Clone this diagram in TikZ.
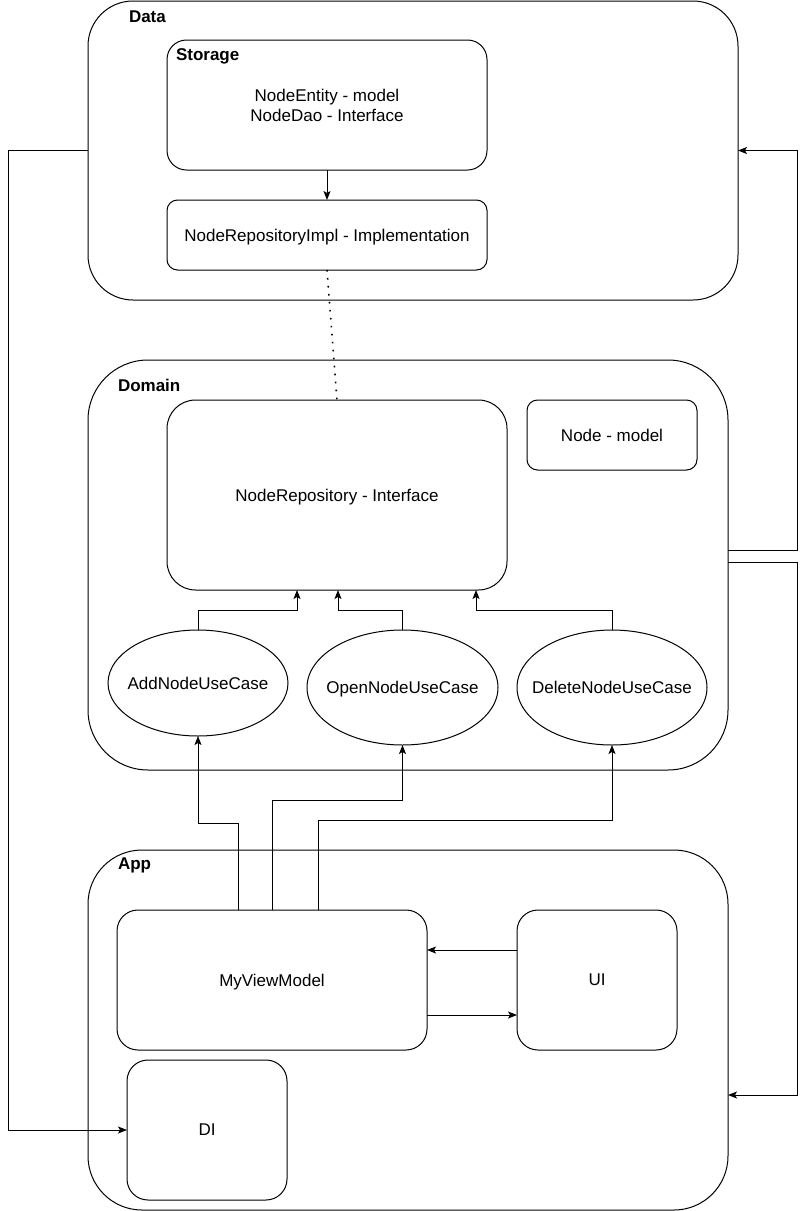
\documentclass[tikz,border=0pt]{standalone}
\usepackage{fontspec}
\setmainfont{Liberation Sans}
\usetikzlibrary{arrows.meta,shapes.geometric}
\begin{document}
\begin{tikzpicture}[x=1pt,y=-1pt,
  every node/.style={inner sep=0pt,outer sep=0pt,font=\fontsize{17}{20}\selectfont},
  box/.style={draw,line width=1pt,rectangle,align=center,text depth=0pt},
  usecase/.style={draw,line width=1pt,ellipse,text depth=0pt},
  title/.style={anchor=west,font=\fontsize{17}{20}\selectfont\bfseries},
  arr/.style={draw,line width=1pt,-{Stealth[length=9pt,width=7pt,inset=2pt]}},
  dots/.style={draw,line width=1.6pt,dash pattern=on 1.6pt off 6.4pt}
]
\useasboundingbox (0,0) rectangle (806,1211);

% layer containers
\node[box,rounded corners=45pt,minimum width=650pt,minimum height=299pt] (data) at (413,150.5) {};
\node[box,rounded corners=60pt,minimum width=640pt,minimum height=410pt] (domain) at (408,565) {};
\node[box,rounded corners=54pt,minimum width=640pt,minimum height=360pt] (app) at (408,1030) {};
\node[title] (datalbl) at (129,17) {Data};
\node[title] (domainlbl) at (118,385) {Domain};
\node[title] (applbl) at (118,865) {App};

% data layer
\node[box,rounded corners=19.5pt,minimum width=320pt,minimum height=130pt] (storage) at (327,105)
  {NodeEntity - model\\NodeDao - Interface};
\node[title] (storagelbl) at (176,56) {Storage};
\node[box,rounded corners=10.5pt,minimum width=320pt,minimum height=70pt] (impl) at (327,235)
  {NodeRepositoryImpl - Implementation};

% domain layer
\node[box,rounded corners=28.5pt,minimum width=340pt,minimum height=190pt] (repo) at (337,495)
  {NodeRepository - Interface};
\node[box,rounded corners=10.5pt,minimum width=170pt,minimum height=70pt] (model) at (612,435)
  {Node - model};
\node[usecase,minimum width=180pt,minimum height=106pt] (add) at (198,683)
  {\makebox[0pt]{AddNodeUseCase}};
\node[usecase,minimum width=191pt,minimum height=115pt] (open) at (402.5,687.5)
  {\makebox[0pt]{OpenNodeUseCase}};
\node[usecase,minimum width=190pt,minimum height=115pt] (del) at (612,687.5)
  {\makebox[0pt]{DeleteNodeUseCase}};

% app layer
\node[box,rounded corners=21pt,minimum width=310pt,minimum height=140pt] (vm) at (272,980) {MyViewModel};
\node[box,rounded corners=21pt,minimum width=160pt,minimum height=140pt] (ui) at (597,980) {UI};
\node[box,rounded corners=21pt,minimum width=160pt,minimum height=140pt] (di) at (207,1130) {DI};

% connectors inside the data layer
\draw[arr] (storage.south) -- (impl.north);
\draw[dots] (impl.south) -- (repo.north);

% use cases depend on the repository interface
\draw[arr] (add.north) -- ++(0,-20) -| ([xshift=-40pt]repo.south);
\draw[arr] (open.north) -- ++(0,-20) -| ([xshift=1pt]repo.south);
\draw[arr] (del.north) -- ++(0,-20) -| ([xshift=139pt]repo.south);

% view model calls the use cases
\draw[arr] ([xshift=-34pt]vm.north) -- ++(0,-87) -| (add.south);
\draw[arr] (vm.north) -- ++(0,-110) -| (open.south);
\draw[arr] ([xshift=46pt]vm.north) -- ++(0,-90) -| (del.south);

% view model and UI
\draw[arr] ([yshift=30pt]ui.west) -- ([yshift=30pt]vm.east);
\draw[arr] ([yshift=-35pt]vm.east) -- ([yshift=-35pt]ui.west);

% cross-layer wiring
\draw[arr] (data.west) -- ++(-80,0) |- (di.west);
\draw[arr] ([yshift=15pt]domain.east) -- ++(69,0) |- (data.east);
\draw[arr] ([yshift=3pt]domain.east) -- ++(69,0) |- ([yshift=-65pt]app.east);
\end{tikzpicture}
\end{document}
